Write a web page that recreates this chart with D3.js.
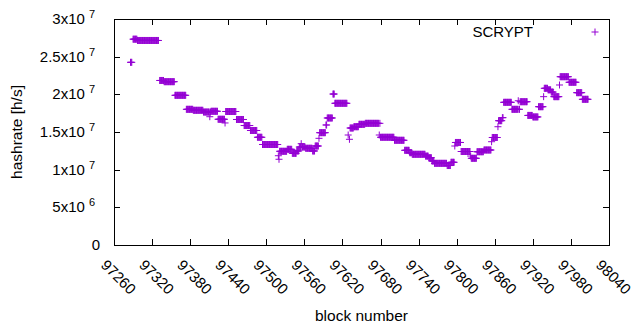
<!DOCTYPE html>
<html><head><meta charset="utf-8">
<script src="https://cdn.jsdelivr.net/npm/d3@7"></script>
<style>
body{margin:0;background:#fff}
text{font-family:"Liberation Sans",Arial,sans-serif;fill:#000}
</style>
</head><body>
<svg id="chart" width="640" height="330"></svg>
<script>
// Runs of consecutive blocks sharing the same hashrate value (h/s)
const runStart = [97286,97290,97297,97332,97339,97356,97374,97385,97401,97411,97412,97413,97424,97435,97436,97453,97465,97475,97486,97494,97519,97520,97521,97533,97541,97548,97552,97555,97556,97562,97573,97577,97583,97584,97594,97596,97605,97608,97629,97631,97632,97638,97646,97656,97678,97679,97680,97702,97718,97726,97730,97751,97756,97761,97765,97785,97791,97797,97798,97807,97822,97823,97832,97843,97855,97856,97865,97866,97872,97874,97887,97897,97898,97900,97912,97920,97929,97937,97938,97944,97949,97953,97962,97963,97977,97989,97998];
const runEnd   = [97288,97296,97330,97338,97355,97373,97384,97400,97410,97411,97412,97423,97434,97435,97452,97464,97474,97485,97493,97518,97519,97520,97532,97540,97547,97551,97554,97555,97561,97572,97576,97582,97583,97593,97595,97604,97607,97627,97629,97631,97637,97645,97655,97677,97678,97679,97701,97717,97725,97729,97750,97755,97760,97764,97784,97790,97796,97797,97806,97821,97822,97831,97842,97854,97855,97864,97865,97871,97873,97886,97896,97897,97899,97911,97919,97928,97936,97937,97943,97948,97952,97961,97962,97976,97988,97997,98007];
const runValue = [2.425e7,2.732e7,2.715e7,2.184e7,2.168e7,1.987e7,1.801e7,1.788e7,1.765e7,1.703e7,1.765e7,1.775e7,1.669e7,1.620e7,1.772e7,1.666e7,1.586e7,1.520e7,1.430e7,1.334e7,1.185e7,1.138e7,1.244e7,1.270e7,1.217e7,1.248e7,1.301e7,1.345e7,1.301e7,1.284e7,1.248e7,1.314e7,1.416e7,1.491e7,1.593e7,1.686e7,2.004e7,1.881e7,1.460e7,1.403e7,1.553e7,1.570e7,1.602e7,1.615e7,1.460e7,1.615e7,1.430e7,1.390e7,1.257e7,1.225e7,1.204e7,1.180e7,1.159e7,1.115e7,1.084e7,1.055e7,1.098e7,1.314e7,1.361e7,1.241e7,1.181e7,1.151e7,1.238e7,1.261e7,1.371e7,1.427e7,1.570e7,1.650e7,1.690e7,1.894e7,1.801e7,1.915e7,1.801e7,1.902e7,1.720e7,1.700e7,1.836e7,1.969e7,2.080e7,2.060e7,2.030e7,1.969e7,2.124e7,2.234e7,2.160e7,2.022e7,1.934e7];

const xTicks = [97260,97320,97380,97440,97500,97560,97620,97680,97740,97800,97860,97920,97980,98040];
const yTicks = [0,5e6,1e7,1.5e7,2e7,2.5e7,3e7];
const yTickMantissa = ["0","5x10","1x10","1.5x10","2x10","2.5x10","3x10"];
const yTickExponent = ["","6","7","7","7","7","7"];
const seriesName = "SCRYPT";
const xTitle = "block number";
const yTitle = "hashrate [h/s]";

const color = "#9400d3";
const L = 114, R = 609, T = 19, B = 245;

const points = [];
runStart.forEach((s, i) => {
  for (let b = s; b <= runEnd[i]; b++) points.push({block: b, hashrate: runValue[i]});
});

const svg = d3.select("#chart");
const x = d3.scaleLinear().domain([97260, 98040]).range([L, R]);
const y = d3.scaleLinear().domain([0, 3e7]).range([B, T]);

function styleAxis(g) {
  g.select(".domain").remove();
  g.selectAll(".tick line").attr("stroke", "#000").attr("shape-rendering", "crispEdges");
  g.selectAll(".tick text").remove();
}
svg.append("g").attr("transform", `translate(0,${B})`)
  .call(d3.axisBottom(x).tickValues(xTicks).tickSize(-6).tickFormat("")).call(styleAxis);
svg.append("g").attr("transform", `translate(0,${T})`)
  .call(d3.axisTop(x).tickValues(xTicks).tickSize(-6).tickFormat("")).call(styleAxis);
svg.append("g").attr("transform", `translate(${L},0)`)
  .call(d3.axisLeft(y).tickValues(yTicks).tickSize(-6).tickFormat("")).call(styleAxis);
svg.append("g").attr("transform", `translate(${R},0)`)
  .call(d3.axisRight(y).tickValues(yTicks).tickSize(-6).tickFormat("")).call(styleAxis);

svg.append("rect").attr("x", L).attr("y", T).attr("width", R - L).attr("height", B - T)
  .attr("fill", "none").attr("stroke", "#000").attr("stroke-width", 1).attr("shape-rendering", "crispEdges");

// y tick labels
const yl = svg.append("g").selectAll("text").data(yTicks).join("text")
  .attr("x", (d, i) => i === 0 ? 100 : 95)
  .attr("y", d => y(d) + 5)
  .attr("text-anchor", "end")
  .style("font-size", "15px");
yl.append("tspan").text((d, i) => yTickMantissa[i]);
yl.append("tspan").attr("dx", 4).attr("dy", -6).style("font-size", "11px").text((d, i) => yTickExponent[i]);

// x tick labels (rotated)
svg.append("g").selectAll("text").data(xTicks).join("text")
  .attr("transform", d => `translate(${x(d) - 10},${B + 17}) rotate(45)`)
  .attr("text-anchor", "start")
  .attr("dominant-baseline", "central")
  .style("font-size", "15px")
  .text(d => d);

// axis titles
svg.append("text").attr("x", (L + R) / 2).attr("y", 321).attr("text-anchor", "middle")
  .style("font-size", "15.5px").text(xTitle);
svg.append("text").attr("transform", `translate(22,${(T + B) / 2}) rotate(-90)`)
  .attr("text-anchor", "middle").style("font-size", "15.5px").text(yTitle);

// points
const h = 3.5;
const plus = (cx, cy) => `M${cx - h},${cy}H${cx + h}M${cx},${cy - h}V${cy + h}`;
svg.append("g").selectAll("path").data(points).join("path")
  .attr("d", d => plus(x(d.block), y(d.hashrate)))
  .attr("stroke", color).attr("stroke-width", 1).attr("fill", "none");

// legend
svg.append("text").attr("x", 533).attr("y", 37).attr("text-anchor", "end")
  .style("font-size", "15px").text(seriesName);
svg.append("path").attr("d", plus(595, 32)).attr("stroke", color).attr("stroke-width", 1).attr("fill", "none");
</script>
</body></html>
